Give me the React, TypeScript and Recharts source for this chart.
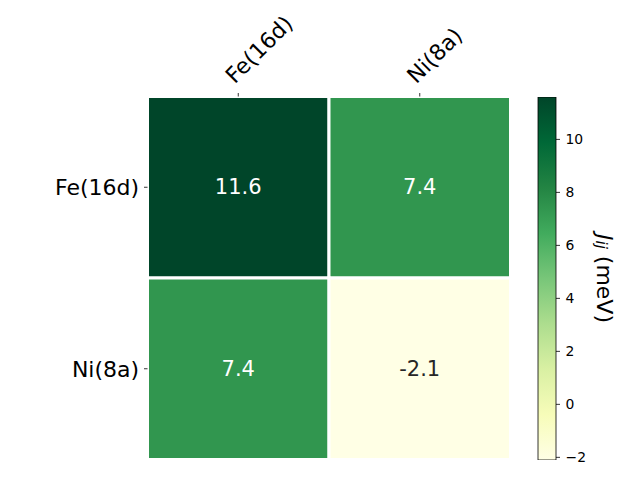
import {
  Bar,
  BarChart,
  ReferenceArea,
  Scatter,
  ScatterChart,
  XAxis,
  YAxis,
} from "recharts";

const sites = ["Fe(16d)", "Ni(8a)"];
const jFe = [11.6, 7.4];
const jNi = [7.4, -2.1];
const cbarTicks = [-2, 0, 2, 4, 6, 8, 10];

// matplotlib YlGn stops
const YLGN = [
  "#ffffe5",
  "#f7fcb9",
  "#d9f0a3",
  "#addd8e",
  "#78c679",
  "#41ab5d",
  "#238443",
  "#006837",
  "#004529",
];

const rows = [jFe, jNi];
const vmin = Math.min(...jFe, ...jNi);
const vmax = Math.max(...jFe, ...jNi);

function hexToRgb(h: string) {
  return [1, 3, 5].map((i) => parseInt(h.slice(i, i + 2), 16));
}

function cmap(v: number) {
  const t = Math.max(0, Math.min(1, (v - vmin) / (vmax - vmin)));
  const s = t * (YLGN.length - 1);
  const i = Math.min(Math.floor(s), YLGN.length - 2);
  const f = s - i;
  const a = hexToRgb(YLGN[i]);
  const b = hexToRgb(YLGN[i + 1]);
  const c = a.map((x, k) => Math.round(x + (b[k] - x) * f));
  return `rgb(${c[0]},${c[1]},${c[2]})`;
}

function textColor(v: number) {
  const t = (v - vmin) / (vmax - vmin);
  return t > 0.45 ? "#ffffff" : "#262626";
}

const cells = rows.flatMap((r, row) =>
  r.map((v, col) => ({ x: col + 0.5, y: row + 0.5, col, row, v }))
);

const cbarData = [{ name: "J", range: [vmin, vmax] }];

const FONT = "DejaVu Sans, sans-serif";
const LABEL_SIZE = 22;

function TopTick(props: any) {
  const { x, y, payload } = props;
  const bx = x - 3.5;
  const by = y - 3.5;
  return (
    <text
      x={bx}
      y={by}
      transform={`rotate(-45, ${bx}, ${by})`}
      textAnchor="start"
      fontSize={LABEL_SIZE}
      fill="#000"
      fontFamily={FONT}
    >
      {sites[Math.floor(payload.value)]}
    </text>
  );
}

function CellText(props: any) {
  const { cx, cy, payload } = props;
  return (
    <text
      x={cx}
      y={cy}
      textAnchor="middle"
      dominantBaseline="central"
      fontSize={21}
      fill={textColor(payload.v)}
      fontFamily={FONT}
    >
      {payload.v.toFixed(1)}
    </text>
  );
}

function CbarLabel(props: any) {
  const vb = props.viewBox || {};
  const cx = 605;
  const cy = (vb.y ?? 97) + (vb.height ?? 363) / 2;
  return (
    <text
      transform={`translate(${cx}, ${cy}) rotate(90)`}
      textAnchor="middle"
      dominantBaseline="central"
      fontSize={LABEL_SIZE}
      fill="#000"
      fontFamily={FONT}
    >
      <tspan fontStyle="italic">J</tspan>
      <tspan fontStyle="italic" fontSize={15} dy={4}>
        ij
      </tspan>
      <tspan dy={-4}> (meV)</tspan>
    </text>
  );
}

export default function App() {
  return (
    <div
      style={{
        position: "absolute",
        left: 0,
        top: 0,
        width: 640,
        height: 480,
        background: "#fff",
        fontFamily: FONT,
      }}
    >
      <div style={{ position: "absolute", left: 0, top: 0 }}>
        <ScatterChart
          width={640}
          height={480}
          margin={{ top: 66.5, right: 129.5, bottom: 20.5, left: 87.5 }}
        >
          <XAxis
            type="number"
            dataKey="x"
            orientation="top"
            domain={[0, 2]}
            ticks={[0.5, 1.5]}
            axisLine={false}
            tickLine={{ stroke: "#000", strokeWidth: 0.8 }}
            tickSize={3.5}
            tickMargin={4.9}
            height={30}
            tick={<TopTick />}
            interval={0}
          />
          <YAxis
            type="number"
            dataKey="y"
            domain={[0, 2]}
            reversed
            ticks={[0.5, 1.5]}
            tickFormatter={(v: number) => sites[Math.floor(v)]}
            axisLine={false}
            tickLine={{ stroke: "#000", strokeWidth: 0.8 }}
            tickSize={3.5}
            tickMargin={4.9}
            width={60}
            interval={0}
            tick={{ fontSize: LABEL_SIZE, fill: "#000", fontFamily: FONT }}
          />
          {cells.map((c) => (
            <ReferenceArea
              key={`${c.row}-${c.col}`}
              x1={c.col}
              x2={c.col + 1}
              y1={c.row}
              y2={c.row + 1}
              fill={cmap(c.v)}
              fillOpacity={1}
              stroke="#fff"
              strokeWidth={3}
            />
          ))}
          <Scatter
            data={cells}
            shape={<CellText />}
            isAnimationActive={false}
          />
        </ScatterChart>
      </div>
      <div style={{ position: "absolute", left: 0, top: 0 }}>
        <BarChart
          width={640}
          height={480}
          data={cbarData}
          margin={{ top: 97, right: 24, bottom: 20, left: 538 }}
          barCategoryGap={0}
        >
          <defs>
            <linearGradient id="ylgn" x1="0" y1="1" x2="0" y2="0">
              {YLGN.map((c, i) => (
                <stop
                  key={i}
                  offset={`${(i / (YLGN.length - 1)) * 100}%`}
                  stopColor={c}
                />
              ))}
            </linearGradient>
          </defs>
          <XAxis dataKey="name" hide />
          <YAxis
            type="number"
            orientation="right"
            domain={[vmin, vmax]}
            ticks={cbarTicks}
            tickFormatter={(v: number) =>
              v < 0 ? `\u2212${Math.abs(v)}` : String(v)
            }
            axisLine={false}
            tickLine={{ stroke: "#000", strokeWidth: 0.8 }}
            tickSize={4}
            tickMargin={5.5}
            width={60}
            interval={0}
            allowDataOverflow
            tick={{ fontSize: 13.9, fill: "#000", fontFamily: FONT }}
            label={<CbarLabel />}
          />
          <Bar
            dataKey="range"
            fill="url(#ylgn)"
            stroke="#000"
            strokeWidth={0.8}
            isAnimationActive={false}
          />
        </BarChart>
      </div>
    </div>
  );
}
